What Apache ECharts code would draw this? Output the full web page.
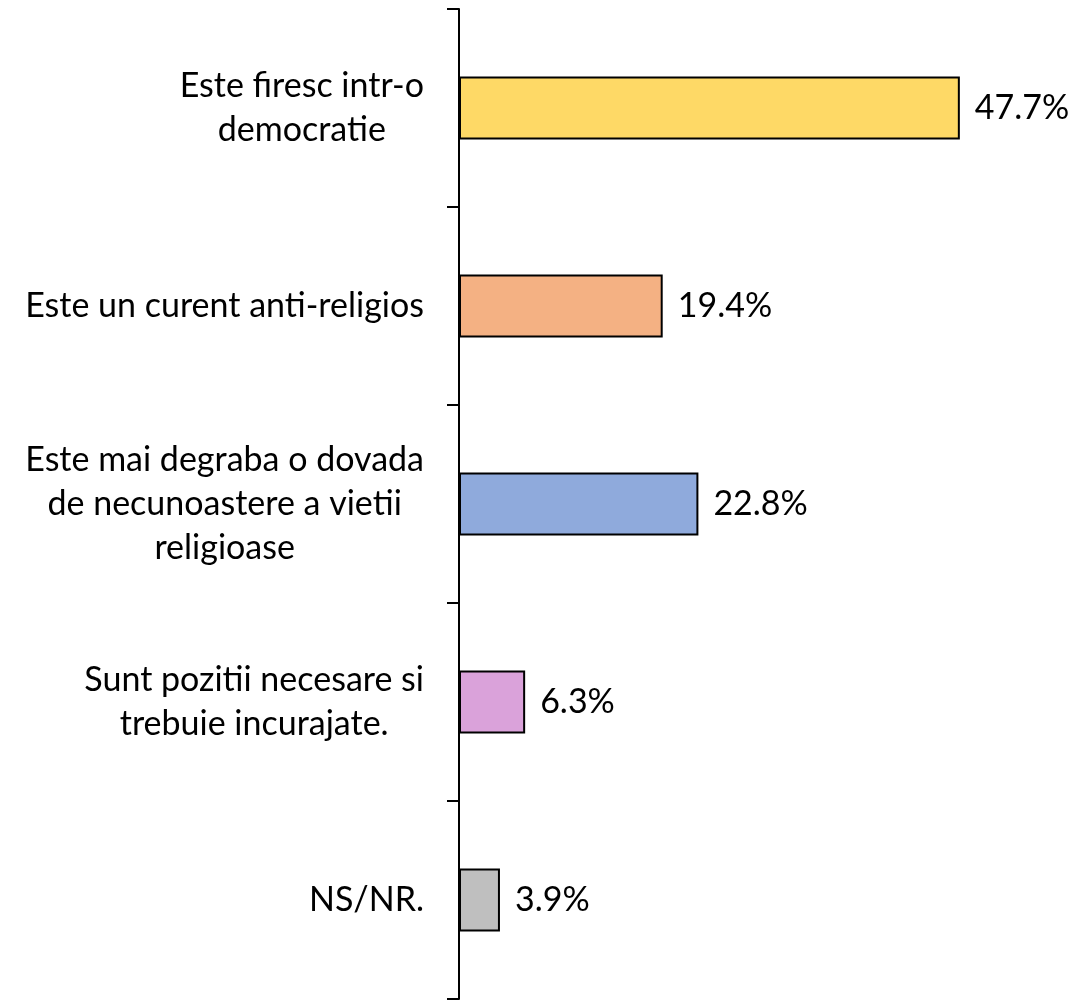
<!DOCTYPE html>
<html lang="ro">
<head>
    <meta charset="UTF-8">
    <title>Chart</title>
    <script src="https://cdn.jsdelivr.net/npm/echarts@6/dist/echarts.min.js"></script>
    <style>
        html, body { margin: 0; padding: 0; background: #fff; }
    </style>
</head>
<body>
    <div id="container" style="width: 1079px;height: 1002px"></div>

    <script>
        // date
        var categories = [
            'Este firesc intr-o\ndemocratie',
            'Este un curent anti-religios',
            'Este mai degraba o dovada\nde necunoastere a vietii\nreligioase',
            'Sunt pozitii necesare si\ntrebuie incurajate.',
            'NS/NR.'
        ];
        var values = [47.7, 19.4, 22.8, 6.3, 3.9];
        var colors = ['#FED966', '#F4B183', '#8FAADC', '#DAA2DA', '#BFBFBF'];

        var myChart = echarts.init(document.getElementById('container'));

        myChart.setOption({
            backgroundColor: '#ffffff',
            animation: false,
            grid: { left: 459, top: 9, width: 525, height: 990 },
            xAxis: {
                type: 'value',
                min: 0,
                max: 50,
                show: false
            },
            yAxis: {
                type: 'category',
                inverse: true,
                data: categories,
                axisLine: { show: true, lineStyle: { color: '#000', width: 2 } },
                axisTick: { show: true, length: 12, lineStyle: { color: '#000', width: 2 } },
                axisLabel: {
                    margin: 35,
                    align: 'right',
                    // liniile centrate intre ele, blocul aliniat la dreapta
                    formatter: function (v) {
                        return v.split('\n').map(function (l) { return '{c|' + l + '}'; }).join('\n');
                    },
                    rich: {
                        c: {
                            align: 'center',
                            fontFamily: 'Lato',
                            fontSize: 34,
                            lineHeight: 44,
                            color: '#000'
                        }
                    }
                }
            },
            series: [{
                type: 'bar',
                barWidth: 63,
                data: values.map(function (v, i) {
                    return { value: v, itemStyle: { color: colors[i] } };
                }),
                itemStyle: { borderColor: '#000', borderWidth: 2 },
                label: {
                    show: true,
                    position: 'right',
                    distance: 15,
                    fontFamily: 'Lato',
                    fontSize: 34,
                    color: '#000',
                    formatter: function (p) { return p.value.toFixed(1) + '%'; }
                }
            }]
        });
    </script>
</body>
</html>
